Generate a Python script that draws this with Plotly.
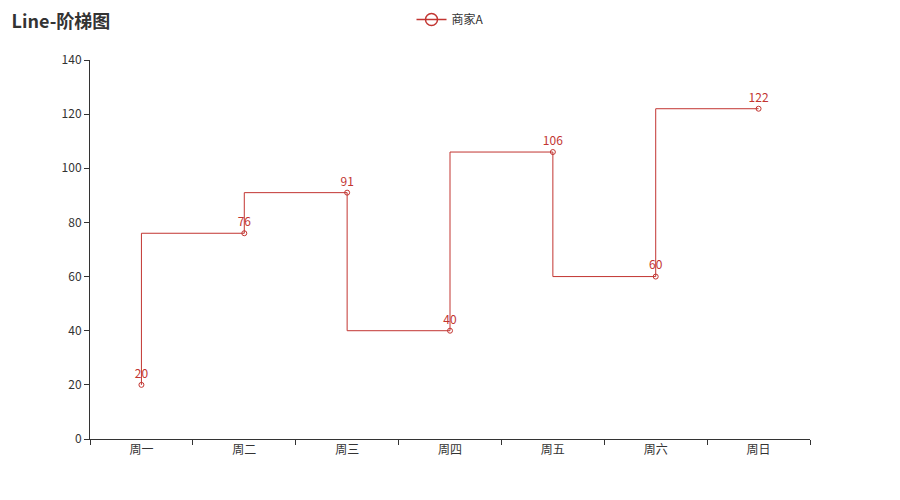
import plotly.graph_objects as go

categories = ["周一", "周二", "周三", "周四", "周五", "周六", "周日"]
values = [20, 76, 91, 40, 106, 60, 122]
series_name = "商家A"
color = "#c23531"
font_family = "Noto Sans CJK SC, Open Sans, sans-serif"

fig = go.Figure()
fig.add_trace(go.Scatter(
    x=categories, y=values, name=series_name, showlegend=False,
    mode="lines+markers+text",
    line=dict(color=color, width=1, shape="vh"),
    marker=dict(symbol="circle-open", size=5, color=color, line=dict(width=1)),
    text=[str(v) for v in values], textposition="top center",
    textfont=dict(color=color, size=12, family=font_family),
))
# legend entry with a larger symbol, like the reference's legend icon
fig.add_trace(go.Scatter(
    x=[None], y=[None], name=series_name, mode="lines+markers",
    line=dict(color=color, width=1.5),
    marker=dict(symbol="circle-open", size=12, color=color, line=dict(width=1.5)),
))

fig.update_layout(
    width=900, height=500,
    paper_bgcolor="white", plot_bgcolor="white",
    margin=dict(l=82, r=98, t=52, b=69, autoexpand=False),
    font=dict(family=font_family, color="#333", size=12),
    title=dict(text="<b>Line-阶梯图</b>", x=0.004, xref="container", xanchor="left",
               y=0.985, yanchor="top", pad=dict(l=0, t=0),
               font=dict(size=18, color="#333")),
    showlegend=True,
    legend=dict(orientation="h", x=0.5, xref="paper", xanchor="center", y=1.145,
                yanchor="top", yref="paper",
                font=dict(size=12, color="#333"), bgcolor="rgba(0,0,0,0)"),
    xaxis=dict(type="category", range=[-0.5, 6.5], showline=True, linecolor="#333", linewidth=1,
               ticks="outside", tickson="boundaries", ticklen=5, tickcolor="#333",
               showgrid=False, zeroline=False, tickfont=dict(color="#333")),
    yaxis=dict(range=[0, 140], dtick=20, showline=True, linecolor="#333", linewidth=1,
               ticks="outside", ticklen=5, tickcolor="#333", showgrid=False, zeroline=False,
               tickfont=dict(color="#333")),
)

fig.write_html("out.html")
